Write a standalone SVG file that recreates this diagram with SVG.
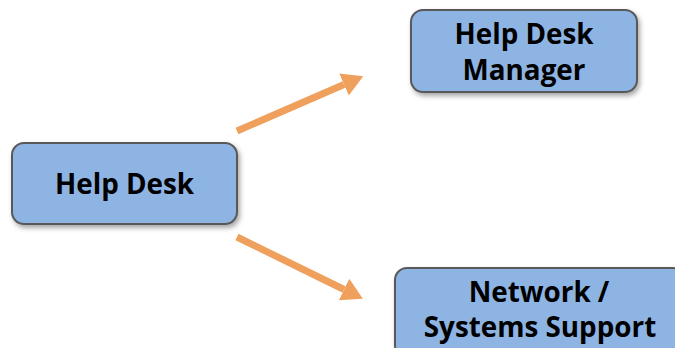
<svg xmlns="http://www.w3.org/2000/svg" width="675" height="348" viewBox="0 0 675 348">
<defs>
<filter id="sh" x="-10%" y="-10%" width="130%" height="140%">
<feDropShadow dx="2" dy="3" stdDeviation="2.5" flood-color="#000" flood-opacity="0.35"/>
</filter>
<marker id="ah" markerUnits="userSpaceOnUse" markerWidth="22" markerHeight="26" refX="0" refY="13" orient="auto" viewBox="0 0 22 26">
<path d="M0,1 L21,13 L0,25 z" fill="#EFA05C"/>
</marker>
<style>
.box{fill:#8EB4E3;stroke:#595959;stroke-width:2;filter:url(#sh)}
.t{font-family:"Open Sans","Noto Sans",sans-serif;font-weight:bold;font-size:27.8px;fill:#000;text-anchor:middle}
.c{stroke:#EFA05C;stroke-width:7;fill:none;marker-end:url(#ah)}
</style>
</defs>
<g id="connectors">
<line class="c" x1="237" y1="131" x2="344" y2="84.5"/>
<line class="c" x1="237" y1="237" x2="344" y2="289.5"/>
</g>
<g id="help-desk">
<rect class="box" x="12" y="143" width="225" height="81" rx="12"/>
<text class="t" x="124.5" y="194">Help Desk</text>
</g>
<g id="help-desk-manager">
<rect class="box" x="411" y="10" width="226" height="82" rx="12"/>
<text class="t" x="524" y="44">Help Desk</text>
<text class="t" x="524" y="80">Manager</text>
</g>
<g id="network-systems-support">
<rect class="box" x="395" y="268" width="290" height="90" rx="12"/>
<text class="t" x="539" y="302">Network /</text>
<text class="t" x="540" y="337">Systems Support</text>
</g>
</svg>
